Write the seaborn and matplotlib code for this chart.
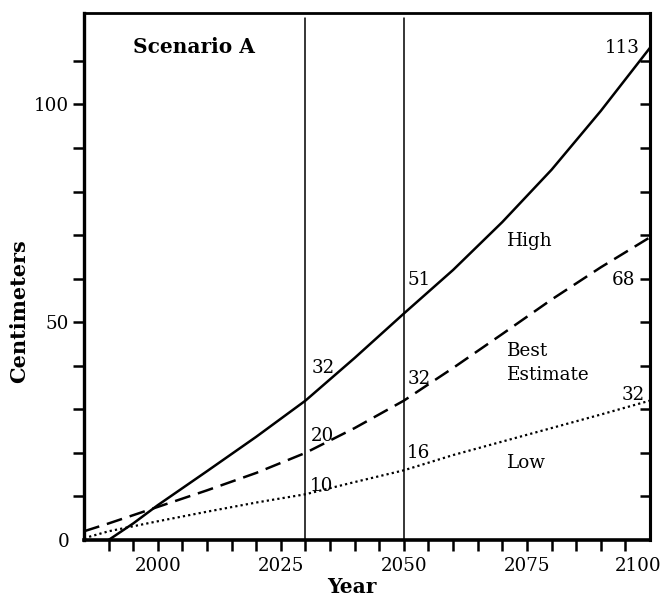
import matplotlib
matplotlib.use("Agg")
import matplotlib.pyplot as plt
import matplotlib.transforms as mtransforms
import seaborn as sns
import pandas as pd

# ---- data ----
high_years = [1990, 1995, 2000, 2010, 2020, 2030, 2040, 2050, 2060, 2070, 2080, 2090, 2100]
high_cm = [0, 3.8, 8, 15.8, 23.7, 32, 41.8, 52, 62, 73, 85, 98.5, 113]
best_years = [1985, 1990, 2000, 2010, 2020, 2030, 2040, 2050, 2060, 2070, 2080, 2090, 2100]
best_cm = [2, 3.8, 7.6, 11.4, 15.4, 20, 25.7, 32, 39.5, 47.3, 55.2, 62.6, 69.5]
low_years = [1985, 1990, 2000, 2010, 2020, 2030, 2040, 2050, 2060, 2070, 2080, 2090, 2100]
low_cm = [0.4, 2, 4.3, 6.5, 8.6, 10.5, 13.3, 16, 19.5, 22.6, 25.7, 28.8, 32]

marker_years = [2030, 2050]
label_years = [2030, 2050, 2100]
high_labels = [32, 51, 113]
best_labels = [20, 32, 68]
low_labels = [10, 16, 32]

xtick_labels = ["2000", "2025", "2050", "2075", "2100"]
ytick_labels = ["0", "50", "100"]

sns.set_style("white")
plt.rcParams["font.family"] = ["DejaVu Serif"]
plt.rcParams["text.color"] = "black"
plt.rcParams["axes.labelcolor"] = "black"
plt.rcParams["xtick.color"] = "black"
plt.rcParams["ytick.color"] = "black"

fig = plt.figure(figsize=(6.65, 5.98), dpi=100)
ax = fig.add_axes([0.1263, 0.097, 0.8511, 0.8813])

df_high = pd.DataFrame({"Year": high_years, "cm": high_cm})
df_best = pd.DataFrame({"Year": best_years, "cm": best_cm})
df_low = pd.DataFrame({"Year": low_years, "cm": low_cm})

sns.lineplot(data=df_high, x="Year", y="cm", color="black", linewidth=1.8, ax=ax)
sns.lineplot(data=df_best, x="Year", y="cm", color="black", linewidth=1.8, ax=ax)
ax.lines[-1].set_linestyle((0, (6.4, 3.2)))
sns.lineplot(data=df_low, x="Year", y="cm", color="black", linewidth=1.6, ax=ax)
ax.lines[-1].set_linestyle((0, (1, 1.4)))

for yr in marker_years:
    ax.axvline(yr, ymin=0, ymax=0.99, color="black", linewidth=1.1)

ax.set_xlim(1985, 2100)
ax.set_ylim(0, 121)

# ticks
xt = list(range(1990, 2100, 5)) + [2100]
ax.set_xticks(xt)
lab_map = {int(s): s for s in xtick_labels}
ax.set_xticklabels([lab_map.get(t, "") for t in xt])
yt = list(range(0, 120, 10))
ax.set_yticks(yt)
ylab_map = {int(s): s for s in ytick_labels}
ax.set_yticklabels([ylab_map.get(t, "") for t in yt])

ax.tick_params(axis="x", direction="out", length=8, width=1.8, labelsize=13.2,
               pad=4, bottom=True, top=False, color="black", labelcolor="black")
ax.tick_params(axis="y", direction="out", length=8, width=1.8, labelsize=13.2,
               pad=2.7, left=True, right=False, color="black", labelcolor="black")
xticks_objs = ax.xaxis.get_major_ticks()
xticks_objs[-1].tick1line.set_visible(False)
lbl = xticks_objs[-1].label1
lbl.set_transform(lbl.get_transform() + mtransforms.ScaledTranslation(-0.12, 0, fig.dpi_scale_trans))
ax.yaxis.get_major_ticks()[0].tick1line.set_visible(False)

sec = ax.secondary_yaxis("right")
sec.set_yticks(list(range(10, 120, 10)))
sec.tick_params(direction="in", length=7, width=1.8, labelright=False, color="black")
sec.spines["right"].set_linewidth(2.2)
sec.spines["right"].set_color("black")

for side, lw in [("left", 2.4), ("bottom", 2.6), ("right", 2.2), ("top", 2.0)]:
    ax.spines[side].set_visible(True)
    ax.spines[side].set_linewidth(lw)
    ax.spines[side].set_color("black")

ax.set_xlabel("Year", fontsize=14.5, fontweight="bold", color="black")
ax.set_ylabel("Centimeters", fontsize=15, fontweight="bold", color="black")
ax.xaxis.set_label_coords(0.4735, -0.071)
ax.yaxis.set_label_coords(-0.097, 0.434)

ax.text(0.195, 0.9345, "Scenario A", transform=ax.transAxes, ha="center", va="center",
        fontsize=14.5, fontweight="bold", color="black")

high_off = [(12.6, 23.8), (10.9, 27.3), (-19.8, -0.1)]
best_off = [(12.2, 12.5), (10.9, 15.9), (-18.7, -26.1)]
low_off = [(11.2, 7.8), (10.2, 12.5), (-12.2, 4.0)]
for labs, offs in [(high_labels, high_off), (best_labels, best_off), (low_labels, low_off)]:
    for yr, v, off in zip(label_years, labs, offs):
        ax.annotate(str(v), xy=(yr, v), xytext=off, textcoords="offset points",
                    ha="center", va="center", fontsize=13.2, color="black")

# series names
ax.text(2070.9, 68.6, "High", ha="left", va="center", fontsize=13.2, color="black")
ax.text(2070.9, 40.7, "Best\nEstimate", ha="left", va="center", fontsize=13.2,
        linespacing=1.4, color="black")
ax.text(2070.9, 17.7, "Low", ha="left", va="center", fontsize=13.2, color="black")

fig.savefig("out.png", dpi=100)
